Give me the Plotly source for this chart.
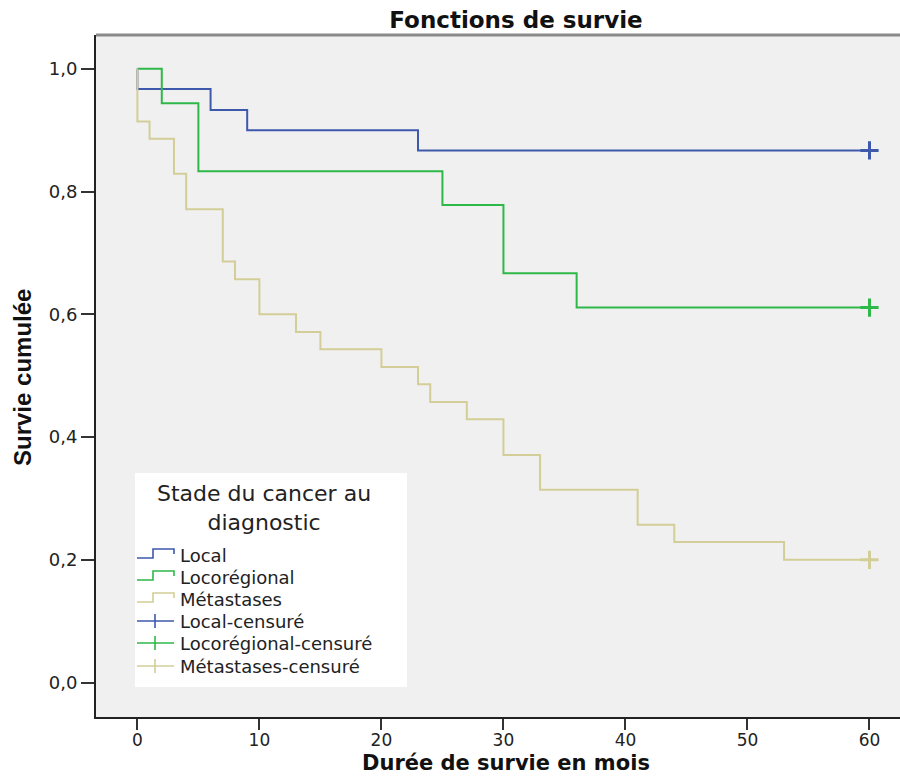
import plotly.graph_objects as go

# Kaplan-Meier estimates by cancer stage at diagnosis (months, cumulative survival)
local_time = [0, 0, 6, 9, 23, 60]
local_surv = [1.0, 0.967, 0.933, 0.900, 0.867, 0.867]

loco_time = [0, 2, 5, 25, 30, 36, 60]
loco_surv = [1.0, 0.944, 0.833, 0.778, 0.667, 0.611, 0.611]

meta_time = [0, 0, 1, 3, 4, 7, 8, 10, 13, 15, 20, 23, 24, 27, 30, 33, 41, 44, 53, 60]
meta_surv = [1.0, 0.914, 0.886, 0.829, 0.771, 0.686, 0.657, 0.600, 0.571, 0.543,
             0.514, 0.486, 0.457, 0.429, 0.371, 0.314, 0.257, 0.229, 0.200, 0.200]

# censored observations (end of follow-up)
censor_time = [60, 60, 60]
censor_surv = [local_surv[-1], loco_surv[-1], meta_surv[-1]]

group_names = ["Local", "Locorégional", "Métastases"]
censor_names = ["Local-censuré", "Locorégional-censuré", "Métastases-censuré"]
colors = ["#3E58AC", "#2EB848", "#D3CE97"]

x_ticks = [0, 10, 20, 30, 40, 50, 60]
y_ticks = [0.0, 0.2, 0.4, 0.6, 0.8, 1.0]
y_ticktext = ["0,0", "0,2", "0,4", "0,6", "0,8", "1,0"]

W, H = 900, 776
L, R, T, B = 96, 900, 35, 717


def px(x):
    return (x - L) / (R - L)


def py(y):
    return (B - y) / (B - T)


fig = go.Figure()

for t, s, c, name in zip([local_time, loco_time, meta_time],
                         [local_surv, loco_surv, meta_surv], colors, group_names):
    fig.add_trace(go.Scatter(x=t, y=s, mode="lines", line=dict(color=c, width=2, shape="hv"),
                             name=name, showlegend=False))

for i in range(3):
    fig.add_trace(go.Scatter(x=[censor_time[i]], y=[censor_surv[i]], mode="markers",
                             marker=dict(symbol="cross-thin", size=13,
                                         line=dict(color=colors[i], width=3)),
                             name=censor_names[i], showlegend=False))

shapes = []
annotations = []

# frame top edge
shapes.append(dict(type="line", xref="paper", yref="paper", x0=0, x1=1, y0=1, y1=1,
                   line=dict(color="#8a8a8a", width=3)))

# legend box
shapes.append(dict(type="rect", xref="paper", yref="paper", x0=px(135), x1=px(407),
                   y0=py(687), y1=py(473), fillcolor="white", line=dict(width=0), layer="above"))
annotations.append(dict(xref="paper", yref="paper", x=px(264), y=py(508),
                        text="Stade du cancer au<br>diagnostic", showarrow=False,
                        xanchor="center", yanchor="middle", align="center",
                        font=dict(family="DejaVu Sans", size=22, color="#222")))

rows = [555, 577, 599, 621, 643, 666]
labels = group_names + censor_names
for k, (row, lab) in enumerate(zip(rows, labels)):
    c = colors[k % 3]
    if k < 3:
        path = (f"M{px(137)},{py(row + 3)} H{px(153)} V{py(row - 6)} "
                f"H{px(174)} V{py(row - 1)}")
        shapes.append(dict(type="path", xref="paper", yref="paper", path=path,
                           line=dict(color=c, width=1.6), layer="above"))
    else:
        shapes.append(dict(type="line", xref="paper", yref="paper", x0=px(137), x1=px(174),
                           y0=py(row), y1=py(row), line=dict(color=c, width=1.6), layer="above"))
        shapes.append(dict(type="line", xref="paper", yref="paper", x0=px(155), x1=px(155),
                           y0=py(row - 7), y1=py(row + 7), line=dict(color=c, width=1.6),
                           layer="above"))
    annotations.append(dict(xref="paper", yref="paper", x=px(178), y=py(row), text=lab,
                            showarrow=False, xanchor="left", yanchor="middle",
                            font=dict(family="DejaVu Sans", size=18, color="#222")))

# axis titles
annotations.append(dict(xref="paper", yref="paper", x=px(506), y=py(763),
                        text="<b>Durée de survie en mois</b>", showarrow=False,
                        xanchor="center", yanchor="middle",
                        font=dict(family="DejaVu Sans", size=21, color="#111")))
annotations.append(dict(xref="paper", yref="paper", x=px(22), y=py(378),
                        text="<b>Survie cumulée</b>", showarrow=False, textangle=-90,
                        xanchor="center", yanchor="middle",
                        font=dict(family="Liberation Sans", size=24, color="#111")))

fig.update_layout(
    width=W, height=H,
    margin=dict(l=L, r=W - R, t=T, b=H - B),
    paper_bgcolor="white",
    plot_bgcolor="#F0F0F0",
    title=dict(text="<b>Fonctions de survie</b>", x=516 / W, xanchor="center",
               y=1 - 20 / H, yanchor="middle", yref="container",
               font=dict(family="DejaVu Sans", size=23, color="#111")),
    shapes=shapes,
    annotations=annotations,
    showlegend=False,
)

fig.update_xaxes(range=[-3.39, 62.5], tickvals=x_ticks, ticks="outside", ticklen=11,
                 tickwidth=2, tickcolor="#333", showline=True, linecolor="#222", linewidth=2,
                 showgrid=False, zeroline=False, ticklabelstandoff=-4,
                 tickfont=dict(family="DejaVu Sans", size=17, color="#222"))
fig.update_yaxes(range=[-0.056, 1.055], tickvals=y_ticks, ticktext=y_ticktext,
                 ticks="outside", ticklen=13, tickwidth=2, tickcolor="#333",
                 showline=True, linecolor="#222", linewidth=2, showgrid=False, zeroline=False,
                 tickfont=dict(family="DejaVu Sans", size=18, color="#222"))

fig.write_html("out.html")
